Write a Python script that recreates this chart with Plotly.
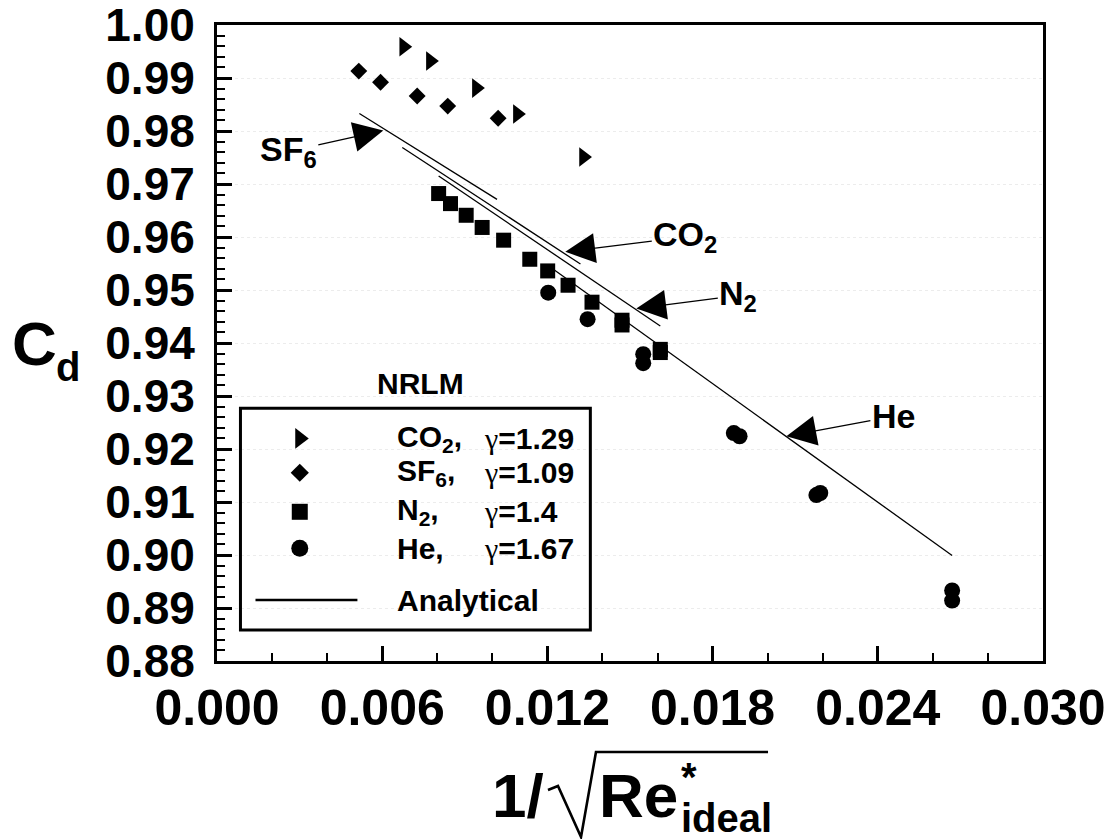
import plotly.graph_objects as go

# ---------------- data ----------------
co2_x = [0.00678, 0.00775, 0.00942, 0.01091, 0.01331]
co2_y = [0.9959, 0.9932, 0.9881, 0.9832, 0.9751]

sf6_x = [0.00515, 0.00594, 0.00727, 0.00838, 0.01021]
sf6_y = [0.9913, 0.9892, 0.9866, 0.9847, 0.9824]

n2_x = [0.00805, 0.00848, 0.00905, 0.00963, 0.01041, 0.01136, 0.01201,
        0.01275, 0.01362, 0.01471, 0.01471, 0.01610, 0.01610]
n2_y = [0.9682, 0.9663, 0.9641, 0.9618, 0.9594, 0.9558, 0.9536,
        0.9509, 0.9477, 0.9443, 0.9434, 0.9388, 0.9382]

he_x = [0.01203, 0.01346, 0.01548, 0.01548, 0.01877, 0.01898,
        0.02177, 0.02191, 0.02670, 0.02670]
he_y = [0.9495, 0.9445, 0.9379, 0.9362, 0.9230, 0.9224,
        0.9113, 0.9117, 0.8933, 0.8914]

# analytical lines (start / end)
ana_sf6_x = [0.00517, 0.01017]
ana_sf6_y = [0.9833, 0.9671]
ana_co2_x = [0.00673, 0.01320]
ana_co2_y = [0.9769, 0.9549]
ana_n2_x = [0.00805, 0.01610]
ana_n2_y = [0.9715, 0.9432]
ana_he_x = [0.01200, 0.02670]
ana_he_y = [0.9547, 0.8999]

# labels for analytical curves: arrow tip (data)
lab_names = ["SF<sub>6</sub>", "CO<sub>2</sub>", "N<sub>2</sub>", "He"]
lab_tip_x = [0.00604, 0.01265, 0.01523, 0.02068]
lab_tip_y = [0.9801, 0.9572, 0.9465, 0.9224]

x_ticks = [0.000, 0.006, 0.012, 0.018, 0.024, 0.030]
y_ticks = [0.88, 0.89, 0.90, 0.91, 0.92, 0.93, 0.94, 0.95, 0.96, 0.97, 0.98, 0.99, 1.00]

legend_gas = ["CO<sub>2</sub>,", "SF<sub>6</sub>,", "N<sub>2</sub>,", "He,"]
legend_gamma = ["1.29", "1.09", "1.4", "1.67"]
legend_symbols = ["triangle-right", "diamond", "square", "circle"]

FONT = "Liberation Sans, Arial, sans-serif"
BLACK = "black"

fig = go.Figure()

for xs, ys in [(ana_sf6_x, ana_sf6_y), (ana_co2_x, ana_co2_y),
               (ana_n2_x, ana_n2_y), (ana_he_x, ana_he_y)]:
    fig.add_trace(go.Scatter(x=xs, y=ys, mode="lines",
                             line=dict(color=BLACK, width=1.3),
                             showlegend=False, hoverinfo="skip"))

marker_sizes = {"triangle-right": 17, "diamond": 13, "square": 15, "circle": 16}
for xs, ys, sym in [(co2_x, co2_y, "triangle-right"), (sf6_x, sf6_y, "diamond"),
                    (n2_x, n2_y, "square"), (he_x, he_y, "circle")]:
    fig.add_trace(go.Scatter(x=xs, y=ys, mode="markers",
                             marker=dict(symbol=sym, size=marker_sizes[sym], color=BLACK,
                                         line=dict(width=0)),
                             showlegend=False))

# label text centre offsets (px) from the arrow tip
lab_dx = [-95, 120, 102, 107]
lab_dy = [21, -15, -13, -20]

# ---------------- manual legend on an overlay (0..1) axis ----------------
leg_row_y = [0.350, 0.296, 0.2346, 0.1771]
leg_sym_x = 0.1002
for sym, ry in zip(legend_symbols, leg_row_y):
    fig.add_trace(go.Scatter(x=[leg_sym_x], y=[ry], xaxis="x2", yaxis="y2", mode="markers",
                             marker=dict(symbol=sym, size=marker_sizes[sym] + 1, color=BLACK,
                                         line=dict(width=0)),
                             showlegend=False, hoverinfo="skip"))
fig.add_trace(go.Scatter(x=[0.0466, 0.170], y=[0.0959, 0.0959], xaxis="x2", yaxis="y2",
                         mode="lines", line=dict(color=BLACK, width=2.5),
                         showlegend=False, hoverinfo="skip"))

annotations = []
bold = dict(family=FONT, color=BLACK, weight="bold")
LEG = 30

for name, gam, ry in zip(legend_gas, legend_gamma, leg_row_y):
    annotations.append(dict(xref="paper", yref="paper", x=0.2159, y=ry, xanchor="left",
                            yanchor="middle", showarrow=False, text=name,
                            font=dict(size=LEG, **bold)))
    annotations.append(dict(xref="paper", yref="paper", x=0.3213, y=ry, xanchor="left",
                            yanchor="middle", showarrow=False,
                            text="<span style='font-family:Liberation Serif;font-weight:normal'>γ</span>=" + gam,
                            font=dict(size=LEG, **bold)))
annotations.append(dict(xref="paper", yref="paper", x=0.2159, y=0.0959, xanchor="left",
                        yanchor="middle", showarrow=False, text="Analytical",
                        font=dict(size=LEG, **bold)))
annotations.append(dict(xref="paper", yref="paper", x=0.2463, y=0.4369, xanchor="center",
                        yanchor="middle", showarrow=False, text="NRLM",
                        font=dict(size=30, **bold)))

# curve labels with arrows
for name, tx, ty, dx, dy in zip(lab_names, lab_tip_x, lab_tip_y, lab_dx, lab_dy):
    annotations.append(dict(x=tx, y=ty, xref="x", yref="y", text=name, showarrow=True,
                            ax=dx, ay=dy, arrowhead=2, arrowsize=4.6, arrowwidth=1.3,
                            arrowcolor=BLACK, standoff=0,
                            font=dict(size=34, **bold)))

# axis titles
annotations.append(dict(xref="paper", yref="paper", x=-0.2215, y=0.4986, xanchor="center",
                        yanchor="middle", showarrow=False, text="C",
                        font=dict(size=62, **bold)))
annotations.append(dict(xref="paper", yref="paper", x=-0.1809, y=0.4619, xanchor="center",
                        yanchor="middle", showarrow=False, text="d",
                        font=dict(size=40, **bold)))
annotations.append(dict(xref="paper", yref="paper", x=0.3983, y=-0.2107, xanchor="right",
                        yanchor="middle", showarrow=False, text="1/",
                        font=dict(size=62, **bold)))
annotations.append(dict(xref="paper", yref="paper", x=0.4600, y=-0.2107, xanchor="left",
                        yanchor="middle", showarrow=False, text="Re",
                        font=dict(size=62, **bold)))
annotations.append(dict(xref="paper", yref="paper", x=0.5593, y=-0.1823, xanchor="left",
                        yanchor="middle", showarrow=False, text="*",
                        font=dict(size=40, **bold)))
annotations.append(dict(xref="paper", yref="paper", x=0.5593, y=-0.2467, xanchor="left",
                        yanchor="middle", showarrow=False, text="ideal",
                        font=dict(size=40, **bold)))

shapes = [
    dict(type="rect", xref="paper", yref="paper", x0=0.0284, x1=0.452, y0=0.0487, y1=0.3976,
         line=dict(color=BLACK, width=3), fillcolor="rgba(0,0,0,0)"),
    # radical sign with overline for the x title
    dict(type="path", xref="paper", yref="paper",
         path="M 0.4007,-0.2028 L 0.4128,-0.1965 L 0.4407,-0.2767 L 0.4588,-0.1431 L 0.6671,-0.1431",
         line=dict(color=BLACK, width=2.6)),
]

fig.update_layout(
    width=1112, height=839,
    margin=dict(l=217, r=69, t=25, b=178, pad=0, autoexpand=False),
    paper_bgcolor="white", plot_bgcolor="white",
    showlegend=False,
    xaxis=dict(range=[0, 0.030], tickmode="array", tickvals=x_ticks,
               ticktext=[f"{v:.3f}" for v in x_ticks], automargin=False,
               ticks="inside", ticklen=15, tickwidth=3, tickcolor=BLACK,
               showline=True, linewidth=3, linecolor=BLACK, mirror=True,
               showgrid=False, zeroline=False, ticklabeloverflow="allow",
               tickfont=dict(family=FONT, size=50, color=BLACK, weight="bold"),
               ticklabelstandoff=1,
               minor=dict(tick0=0, dtick=0.002, ticks="inside", ticklen=8,
                          tickwidth=1.5, tickcolor=BLACK, showgrid=False)),
    yaxis=dict(range=[0.88, 1.00], tickmode="array", tickvals=y_ticks,
               ticktext=[f"{v:.2f}" for v in y_ticks], automargin=False,
               ticks="inside", ticklen=15, tickwidth=3, tickcolor=BLACK,
               showline=True, linewidth=3, linecolor=BLACK, mirror=True,
               showgrid=True, gridcolor="#ececec", griddash="dot", gridwidth=1,
               zeroline=False, ticklabeloverflow="allow",
               tickfont=dict(family=FONT, size=46, color=BLACK, weight="bold"),
               ticklabelstandoff=10,
               minor=dict(tick0=0.88, dtick=0.002, ticks="inside", ticklen=8,
                          tickwidth=1.5, tickcolor=BLACK, showgrid=False)),
    xaxis2=dict(range=[0, 1], overlaying="x", anchor="y2", visible=False,
                tickmode="array", tickvals=[], showticklabels=False,
                showgrid=False, automargin=False),
    yaxis2=dict(range=[0, 1], overlaying="y", anchor="x2", visible=False,
                tickmode="array", tickvals=[], showticklabels=False,
                showgrid=False, automargin=False),
    annotations=annotations,
    shapes=shapes,
)

fig.write_html("out.html", config={"displayModeBar": False},
               post_script="document.body.style.margin='0px';")
